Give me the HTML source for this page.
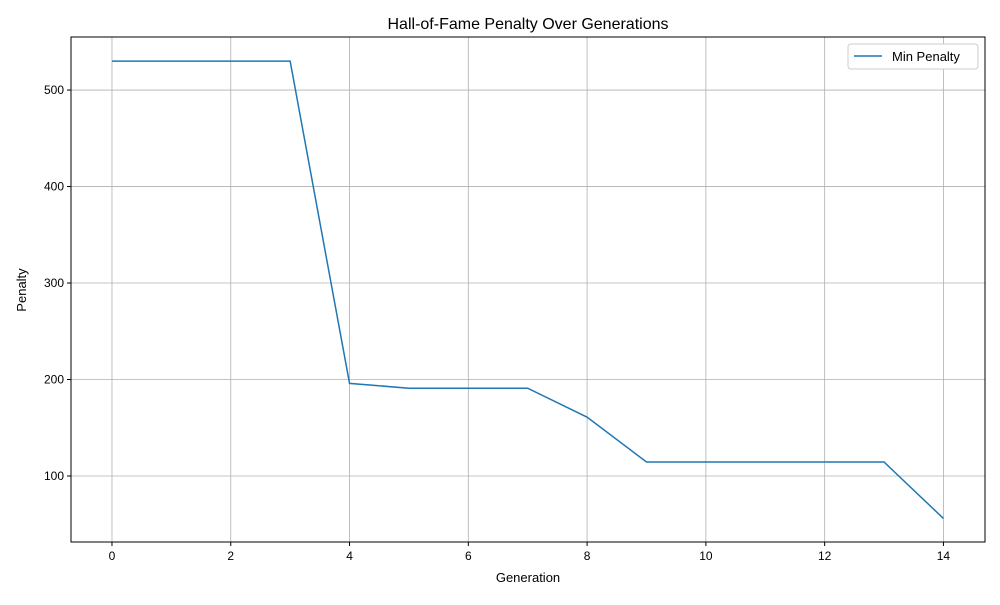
<!DOCTYPE html>
<html><head><meta charset="utf-8"><style>
body{margin:0;background:#fff;font-family:"Liberation Sans",sans-serif;}
svg text{font-family:"Liberation Sans",sans-serif;fill:#000;}
</style></head><body>
<svg id="chart" width="1000" height="600" xmlns="http://www.w3.org/2000/svg">
<rect width="1000" height="600" fill="#fff"/>
<g id="grid"></g>
<g id="axes"></g>
<polyline id="line" fill="none" stroke="#1f77b4" stroke-width="1.5"/>
<text x="528" y="29" font-size="16" text-anchor="middle">Hall-of-Fame Penalty Over Generations</text>
<text x="528" y="582" font-size="13" text-anchor="middle">Generation</text>
<text x="26" y="290" font-size="13" text-anchor="middle" transform="rotate(-90 26 290)">Penalty</text>
<g>
<rect x="848" y="44" width="130" height="25" fill="#fff" stroke="#ccc" rx="3"/>
<line x1="854" y1="56" x2="882" y2="56" stroke="#1f77b4" stroke-width="1.5"/>
<text x="892" y="61" font-size="13">Min Penalty</text>
</g>
</svg>
<script>
const generations=[0,1,2,3,4,5,6,7,8,9,10,11,12,13,14];
const penalties=[530,530,530,530,196,191,191,191,161,114.5,114.5,114.5,114.5,114.5,56];
const xTicks=[0,2,4,6,8,10,12,14];
const yTicks=[100,200,300,400,500];
const L=71,R=985,T=37,B=542;
const xMin=-0.69,xMax=14.7,yMin=31.6,yMax=555;
const X=v=>L+(v-xMin)/(xMax-xMin)*(R-L);
const Y=v=>B-(v-yMin)/(yMax-yMin)*(B-T);
const ns="http://www.w3.org/2000/svg";
const grid=document.getElementById('grid'),axes=document.getElementById('axes');
function mk(tag,attrs,parent){const e=document.createElementNS(ns,tag);for(const k in attrs)e.setAttribute(k,attrs[k]);parent.appendChild(e);return e;}
xTicks.forEach(t=>{const x=X(t);
const g=mk('line',{x1:x,x2:x,y1:T,y2:B,stroke:'#b0b0b0','stroke-width':0.8},grid);


mk('line',{x1:x,x2:x,y1:B,y2:B+4,stroke:'#000'},axes);
const tx=mk('text',{x:x,y:B+18,'font-size':12,'text-anchor':'middle'},axes);tx.textContent=t;

});
yTicks.forEach(t=>{const y=Y(t);
const g=mk('line',{x1:L,x2:R,y1:y,y2:y,stroke:'#b0b0b0','stroke-width':0.8},grid);


mk('line',{x1:L-4,x2:L,y1:y,y2:y,stroke:'#000'},axes);
const tx=mk('text',{x:L-7,y:y+4,'font-size':12,'text-anchor':'end'},axes);tx.textContent=t;

});
const fr=mk('rect',{x:L,y:T,width:R-L,height:B-T,fill:'none',stroke:'#000','stroke-width':1},axes);


document.getElementById('line').setAttribute('points',generations.map((g,i)=>X(g)+','+Y(penalties[i])).join(' '));
</script>
</body></html>
